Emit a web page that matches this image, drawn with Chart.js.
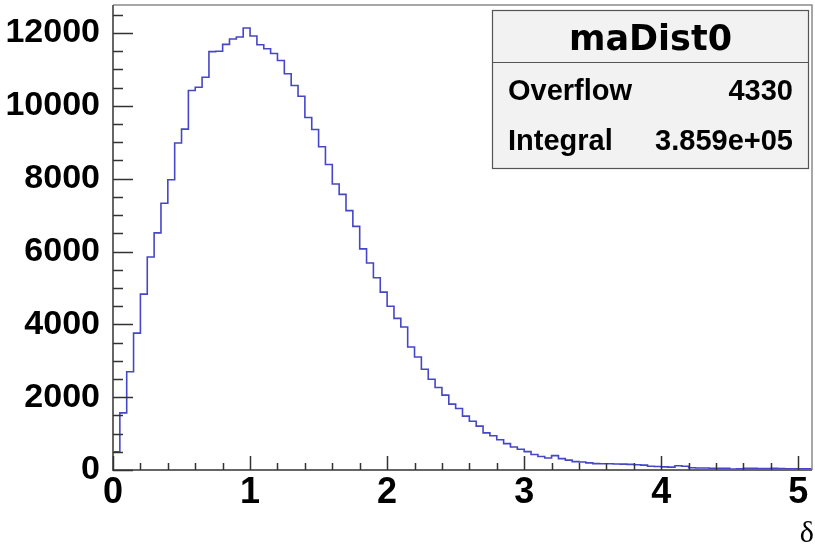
<!DOCTYPE html>
<html>
<head>
<meta charset="utf-8">
<script src="https://cdn.jsdelivr.net/npm/chart.js@4.4.0/dist/chart.umd.min.js"></script>
<style>
  html, body { margin: 0; padding: 0; background: #fff; }
  #wrap { width: 815px; height: 549px; }
</style>
</head>
<body>
<div id="wrap"><canvas id="histo" width="815" height="549"></canvas></div>
<script>
// histogram binning (x axis: delta)
const binLow = 0;
const binWidth = 0.05;
const xMax = 5.1;
const yMax = 12770;

// bin contents, one per 0.05 bin
const counts = [
  500, 1570, 2700, 3760, 4830, 5850, 6512, 7324, 7970, 8980,
  9361, 10420, 10510, 10785, 11490, 11500, 11690, 11835, 11890, 12140,
  11918, 11680, 11570, 11438, 11245, 10880, 10560, 10265, 9680, 9350,
  8877, 8390, 7854, 7570, 7123, 6690, 6073, 5685, 5279, 4886,
  4498, 4165, 3927, 3379, 3105, 2767, 2493, 2265, 2055, 1808,
  1690, 1480, 1340, 1205, 1020, 940, 830, 725, 630, 570,
  505, 425, 370, 330, 395, 313, 270, 230, 220, 195,
  175, 170, 170, 165, 160, 155, 145, 135, 105, 95,
  85, 80, 115, 105, 60, 55, 55, 50, 50, 45,
  25, 30, 45, 45, 40, 40, 45, 40, 35, 35,
  35, 30
];

const xTicks = [0, 1, 2, 3, 4, 5];
const yTicks = [0, 2000, 4000, 6000, 8000, 10000, 12000];
const xMinorStep = 0.2;
const yMinorStep = 500;

const statTitle = 'maDist0';
const statLabels = ['Overflow', 'Integral'];
const statValues = ['4330', '3.859e+05'];
const axisTitle = 'δ';

// step outline: start on the baseline, each bin holds its value to the next edge
const points = [{ x: binLow, y: 0 }];
counts.forEach(function (c, i) {
  points.push({ x: binLow + i * binWidth, y: c });
});
points.push({ x: binLow + counts.length * binWidth, y: counts[counts.length - 1] });

const tickFont = { family: '"Liberation Sans", Arial, sans-serif', weight: 'bold', size: 34 };

// ROOT style frame, inward ticks, stats box
const rootFrame = {
  id: 'rootFrame',
  afterDraw(chart) {
    const ctx = chart.ctx;
    const a = chart.chartArea;
    const xs = chart.scales.x;
    const ys = chart.scales.y;
    ctx.save();

    // frame top/right
    ctx.strokeStyle = '#8a8a8a';
    ctx.lineWidth = 1.5;
    ctx.beginPath();
    ctx.moveTo(a.left, a.top);
    ctx.lineTo(a.right, a.top);
    ctx.lineTo(a.right, a.bottom);
    ctx.stroke();

    // axes
    ctx.strokeStyle = '#666';
    ctx.lineWidth = 2;
    ctx.beginPath();
    ctx.moveTo(a.left, a.top);
    ctx.lineTo(a.left, a.bottom);
    ctx.lineTo(a.right, a.bottom);
    ctx.stroke();

    // ticks
    ctx.strokeStyle = '#333';
    ctx.lineWidth = 1.5;
    ctx.beginPath();
    for (let v = 0; v <= xMax + 1e-9; v += xMinorStep) {
      const px = Math.round(xs.getPixelForValue(v)) + 0.5;
      const major = Math.abs(v - Math.round(v)) < 1e-6;
      ctx.moveTo(px, a.bottom);
      ctx.lineTo(px, a.bottom - (major ? 14 : 7));
    }
    for (let v = 0; v <= yMax; v += yMinorStep) {
      const py = Math.round(ys.getPixelForValue(v)) + 0.5;
      const major = v % 2000 === 0;
      ctx.moveTo(a.left, py);
      ctx.lineTo(a.left + (major ? 20 : 10), py);
    }
    ctx.stroke();

    // axis title
    ctx.fillStyle = '#000';
    ctx.font = '30px "Liberation Serif", "DejaVu Serif", serif';
    ctx.textAlign = 'right';
    ctx.textBaseline = 'alphabetic';
    ctx.fillText(axisTitle, 814, 542);

    // stats box
    const bx = 492.5, by = 10.5, bw = 316, bh = 158;
    ctx.fillStyle = '#f2f2f2';
    ctx.fillRect(bx, by, bw, bh);
    ctx.strokeStyle = '#555';
    ctx.lineWidth = 1.2;
    ctx.strokeRect(bx, by, bw, bh);
    ctx.beginPath();
    ctx.moveTo(bx, 62.5);
    ctx.lineTo(bx + bw, 62.5);
    ctx.stroke();

    ctx.fillStyle = '#000';
    ctx.textAlign = 'center';
    ctx.font = 'bold 35px "DejaVu Sans", sans-serif';
    ctx.fillText(statTitle, bx + bw / 2, 50);

    const rowY = [100, 150];
    ctx.font = 'bold 29px "Liberation Sans", Arial, sans-serif';
    statLabels.forEach(function (lab, i) {
      ctx.textAlign = 'left';
      ctx.fillText(lab, 508, rowY[i]);
      ctx.textAlign = 'right';
      ctx.fillText(statValues[i], 793, rowY[i]);
    });

    ctx.restore();
  }
};

const ctx = document.getElementById('histo').getContext('2d');
const chart = new Chart(ctx, {
  type: 'line',
  data: {
    datasets: [{
      data: points,
      stepped: 'before',
      borderColor: '#4646c8',
      borderWidth: 1.6,
      pointRadius: 0,
      fill: false,
      tension: 0
    }]
  },
  options: {
    responsive: false,
    animation: false,
    devicePixelRatio: 1,
    layout: { padding: { top: 5, right: 3, bottom: 0, left: 0 } },
    plugins: {
      legend: { display: false },
      tooltip: { enabled: false }
    },
    scales: {
      x: {
        type: 'linear',
        min: binLow,
        max: xMax,
        grid: { display: false, drawTicks: false },
        border: { display: false },
        afterBuildTicks(s) { s.ticks = xTicks.map(v => ({ value: v })); },
        afterFit(s) { s.height = 79; s.paddingLeft = 0; s.paddingRight = 0; },
        ticks: { font: { family: tickFont.family, weight: 'bold', size: 36 }, color: '#000', padding: 1,
                 maxRotation: 0, autoSkip: false, callback: v => String(v) }
      },
      y: {
        min: 0,
        max: yMax,
        grid: { display: false, drawTicks: false },
        border: { display: false },
        afterBuildTicks(s) { s.ticks = yTicks.map(v => ({ value: v })); },
        afterFit(s) { s.width = 113; s.paddingTop = 0; s.paddingBottom = 0; },
        ticks: { font: tickFont, color: '#000', padding: 13, callback: v => String(v) }
      }
    }
  },
  plugins: [rootFrame]
});
</script>
</body>
</html>
